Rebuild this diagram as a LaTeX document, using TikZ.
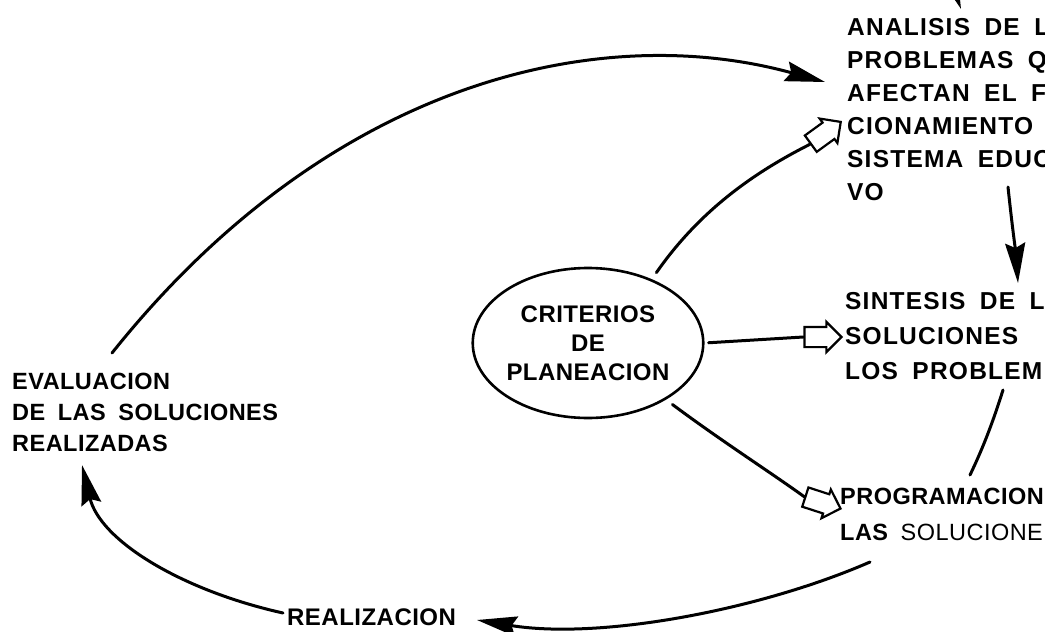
\documentclass[tikz,border=0pt]{standalone}
\usepackage{fontspec}
\setmainfont{Liberation Sans}
\newfontfamily\capsfont[LetterSpace=5,WordSpace=1.8]{Liberation Sans}
\newfontfamily\tightfont[LetterSpace=2,WordSpace=1.8]{Liberation Sans}
\usetikzlibrary{shapes.geometric,shapes.arrows,arrows.meta}

\tikzset{
  flujo/.style={line width=3pt,line cap=round},
  punta/.style={-{Stealth[length=40pt,width=20pt,inset=5pt]}},
  hueca/.style={draw,line width=2.2pt,single arrow,minimum height=37pt,inner xsep=0pt,inner ysep=9pt,
    single arrow head extend=5pt},
  rotulo/.style={inner sep=0pt,align=left,font=\capsfont\bfseries\fontsize{24.5}{33}\selectfont},
}

\begin{document}
\begin{tikzpicture}[x=1pt,y=-1pt]
    \fill[white] (0,0) rectangle (1045,632);
    \useasboundingbox (0,0) rectangle (1045,632);
    % centre
    \node[draw,ellipse,line width=2.6pt,minimum width=210pt,minimum height=150pt,inner sep=0pt,
      align=center,font=\tightfont\bfseries\fontsize{24}{29}\selectfont] (crit) at (588,343)
      {CRITERIOS\\DE\\PLANEACION};
    % textos
    \node[rotulo,anchor=north west] (analisis) at (847,18)
      {ANALISIS DE L\\PROBLEMAS Q\\AFECTAN EL F\\CIONAMIENTO\\SISTEMA EDUC\\VO};
    \node[rotulo,anchor=north west,font=\capsfont\bfseries\fontsize{24.5}{35}\selectfont] (sintesis) at (845,292)
      {SINTESIS DE L\\SOLUCIONES\\LOS PROBLEM};
    \node[rotulo,anchor=north west,font=\tightfont\bfseries\fontsize{23.5}{36}\selectfont] (programa) at (840,488)
      {PROGRAMACION\\LAS {\mdseries SOLUCIONE}};
    \node[rotulo,anchor=west,font=\tightfont\bfseries\fontsize{24}{33}\selectfont] (realiza) at (287,617) {REALIZACION};
    \node[rotulo,anchor=north west,font=\tightfont\bfseries\fontsize{23.5}{31}\selectfont] (evalua) at (12,373)
      {EVALUACION\\DE LAS SOLUCIONES\\REALIZADAS};
    % flechas huecas
    \node[hueca,rotate=36,anchor=tip] (haana) at (842,121) {};
    \node[hueca,anchor=tip] (hasin) at (843,337) {};
    \node[hueca,rotate=-18,anchor=tip] (hapro) at (842,509) {};
    \draw[flujo,shorten <=8pt] (crit.45) .. controls (700,210) and (755,172) .. (haana.tail);
    \draw[flujo,shorten <=4pt] (crit.east) -- (hasin.tail);
    \draw[flujo,shorten <=8pt] (crit.-36) .. controls (720,440) and (770,472) .. (hapro.tail);
    % ciclo
    \coordinate (arriba) at (945,-35);
    \coordinate (anaN) at (961,9);
    \coordinate (evaN) at (112,353);
    \coordinate (anaW) at (825,82);
    \coordinate (voS) at (1008,187);
    \coordinate (sinN) at (1018,283);
    \coordinate (sinS) at (1003,390);
    \coordinate (proN) at (970,475);
    \coordinate (proS) at (870,562);
    \coordinate (reaE) at (477,620);
    \coordinate (reaW) at (283,613);
    \coordinate (evaS) at (82,465);
    \draw[flujo,punta] (arriba) -- (anaN);
    \draw[flujo,punta] (evaN) .. controls (330,80) and (600,20) .. (anaW);
    \draw[flujo,punta] (voS) .. controls (1012,225) and (1016,255) .. (sinN);
    \draw[flujo] (sinS) .. controls (992,425) and (982,450) .. (proN);
    \draw[flujo,punta] (proS) .. controls (760,610) and (600,640) .. (reaE);
    \draw[flujo,punta] (reaW) .. controls (180,590) and (100,540) .. (evaS);
\end{tikzpicture}
\end{document}
